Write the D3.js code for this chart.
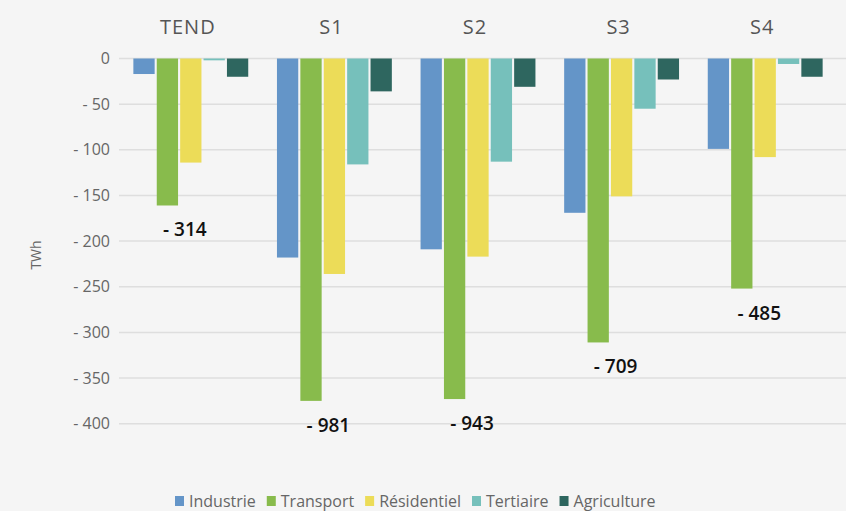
<!DOCTYPE html>
<html><head><meta charset="utf-8">
<script src="https://cdn.jsdelivr.net/npm/d3@7/dist/d3.min.js"></script>
<style>
html,body{margin:0;padding:0;background:#f5f5f5;}
text{font-family:"Open Sans","Noto Sans",sans-serif;}
</style></head>
<body><svg id="c" width="846" height="511"></svg>
<script>
const scenarios = ["TEND","S1","S2","S3","S4"];
const sectors = ["Industrie","Transport","Résidentiel","Tertiaire","Agriculture"];
const industrie   = [-17,-218,-209,-169,-99];
const transport   = [-161,-375,-373,-311,-252];
const residentiel = [-114,-236,-217,-151,-108];
const tertiaire   = [-2,-116,-113,-55,-6];
const agriculture = [-20,-36,-31,-23,-20];
const totals = ["- 314","- 981","- 943","- 709","- 485"];
const yTicks = [0,-50,-100,-150,-200,-250,-300,-350,-400];
const colors = ["#6495c8","#88bb4c","#ecdc58","#76c0bb","#2e665f"];

const series = [industrie,transport,residentiel,tertiaire,agriculture];
const svg = d3.select("#c");
svg.append("rect").attr("width",846).attr("height",511).attr("fill","#f5f5f5");

const y = d3.scaleLinear().domain([0,-400]).range([58.5,423.7]);
const x0 = d3.scaleBand().domain(scenarios).range([119,837]).paddingInner(0.2).paddingOuter(0.1);
const x1 = d3.scaleBand().domain(sectors).range([0,x0.bandwidth()]).paddingInner(0.09).paddingOuter(0);

// gridlines
svg.append("g").selectAll("line").data(yTicks).join("line")
  .attr("x1",119).attr("x2",846)
  .attr("y1",d=>y(d)).attr("y2",d=>y(d))
  .attr("stroke","#dedede").attr("stroke-width",1.5);

// y axis
const yAxis = d3.axisLeft(y).tickValues(yTicks).tickSize(0).tickPadding(0)
  .tickFormat(d=> d===0 ? "0" : "- " + Math.abs(d));
const ga = svg.append("g").attr("transform","translate(110,0)").call(yAxis);
ga.select(".domain").remove();
ga.selectAll("text").attr("fill","#666").style("font-size","16px")
  .style("font-family",'"Open Sans","Noto Sans",sans-serif');

svg.append("text").attr("transform","translate(41,255) rotate(-90)")
  .attr("text-anchor","middle").attr("fill","#666").style("font-size","14px").text("TWh");

// bars
const groups = svg.append("g").selectAll("g").data(scenarios).join("g")
  .attr("transform",d=>`translate(${x0(d)},0)`);
groups.selectAll("rect").data((d,i)=>sectors.map((s,j)=>({s,j,v:series[j][i]})))
  .join("rect")
  .attr("x",d=>x1(d.s)).attr("width",x1.bandwidth())
  .attr("y",d=>y(Math.max(0,d.v))).attr("height",d=>Math.abs(y(d.v)-y(0)))
  .attr("fill",d=>colors[d.j]);

// scenario headers
svg.append("g").selectAll("text").data(scenarios).join("text")
  .attr("x",d=>x0(d)+x0.bandwidth()/2 - 3).attr("y",34)
  .attr("text-anchor","middle").attr("fill","#555").style("font-size","20px")
  .style("letter-spacing","1px").text(d=>d);

// totals
svg.append("g").selectAll("text").data(scenarios).join("text")
  .attr("x",d=>x0(d)+x0.bandwidth()/2 - 6)
  .attr("y",(d,i)=>y(transport[i]) + 31)
  .attr("text-anchor","middle").attr("fill","#111").style("font-size","19px").style("font-weight","600")
  .text((d,i)=>totals[i]);

// legend
const lg = svg.append("g");
let lx = 175;
sectors.forEach((s,i)=>{
  lg.append("rect").attr("x",lx).attr("y",496).attr("width",9).attr("height",10).attr("fill",colors[i]);
  const t = lg.append("text").attr("x",lx+14).attr("y",507).attr("fill","#666").style("font-size","16px").text(s);
  lx += 14 + t.node().getComputedTextLength() + 11;
});
</script></body></html>
